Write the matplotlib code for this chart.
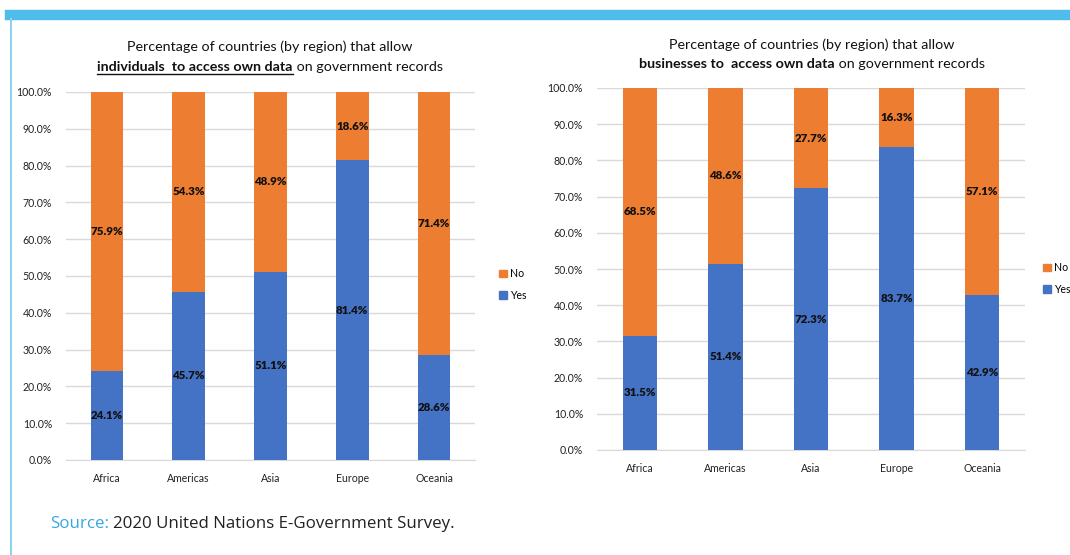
import numpy as np
import matplotlib.pyplot as plt
from matplotlib.patches import Patch
from matplotlib.lines import Line2D

plt.rcParams['font.family'] = ['Lato', 'DejaVu Sans']

regions = ['Africa', 'Americas', 'Asia', 'Europe', 'Oceania']
indiv_yes = [24.1, 45.7, 51.1, 81.4, 28.6]
indiv_no = [75.9, 54.3, 48.9, 18.6, 71.4]
biz_yes = [31.5, 51.4, 72.3, 83.7, 42.9]
biz_no = [68.5, 48.6, 27.7, 16.3, 57.1]

BLUE = '#4472C4'
ORANGE = '#ED7D31'
GRID = '#D9D9D9'
FRAME = '#4FBDEB'

fig = plt.figure(figsize=(10.7, 5.55), dpi=100)
W, H = 1070, 555

def px_axes(x0, y0, x1, y1):
    return fig.add_axes([x0 / W, 1 - y1 / H, (x1 - x0) / W, (y1 - y0) / H])

def draw_panel(ax, yes, no):
    x = np.arange(len(regions))
    ax.bar(x, yes, width=0.4, color=BLUE, zorder=3)
    ax.bar(x, no, width=0.4, bottom=yes, color=ORANGE, zorder=3)
    for xi, y, n in zip(x, yes, no):
        ax.text(xi, y / 2, f'{y:.1f}%', ha='center', va='center',
                fontsize=8.3, fontweight='heavy', color='#111111', zorder=4)
        ax.text(xi, y + n / 2, f'{n:.1f}%', ha='center', va='center',
                fontsize=8.3, fontweight='heavy', color='#111111', zorder=4)
    ax.set_xlim(-0.5, len(regions) - 0.5)
    ax.set_ylim(0, 100)
    ax.set_yticks(np.arange(0, 101, 10))
    ax.set_yticklabels([f'{v:.1f}%' for v in range(0, 101, 10)])
    ax.set_xticks(x)
    ax.set_xticklabels(regions)
    ax.tick_params(length=0, labelsize=7.6, colors='#222222')
    ax.tick_params(axis='y', pad=10)
    ax.tick_params(axis='x', pad=9)
    ax.grid(axis='y', color=GRID, linewidth=1, zorder=0)
    for s in ['top', 'right', 'left']:
        ax.spines[s].set_visible(False)
    ax.spines['bottom'].set_color(GRID)
    ax.set_facecolor('none')

ax1 = px_axes(66, 92, 475, 460)
draw_panel(ax1, indiv_yes, indiv_no)
ax2 = px_axes(597, 88, 1025, 450)
draw_panel(ax2, biz_yes, biz_no)

handles = [Patch(color=ORANGE, label='No'), Patch(color=BLUE, label='Yes')]
for xl, yl in [(494, 263), (1038, 257)]:
    fig.legend(handles=handles, loc='upper left', bbox_to_anchor=(xl / W, 1 - yl / H),
               frameon=False, fontsize=7.6, handlelength=0.7, handleheight=0.7,
               handletextpad=0.3, labelspacing=1.0, borderpad=0)

# titles
def title(cx, y1, y2, bold, rest, underline):
    fig.text(cx / W, 1 - y1 / H, 'Percentage of countries (by region) that allow',
             ha='center', va='center', fontsize=10.3, color='#111111')
    tb = fig.text(0, 1 - y2 / H, bold, ha='left', va='center', fontsize=10.3,
                  fontweight='bold', color='#111111')
    tr = fig.text(0, 1 - y2 / H, rest, ha='left', va='center', fontsize=10.3,
                  color='#111111')
    return tb, tr, cx, y2, underline

titles = [title(270, 47, 67, 'individuals  to access own data', ' on government records', True),
          title(812, 45, 64, 'businesses to  access own data', ' on government records', False)]

fig.canvas.draw()
r = fig.canvas.get_renderer()
for tb, tr, cx, y2, ul in titles:
    wb = tb.get_window_extent(r).width
    wr = tr.get_window_extent(r).width
    x0 = cx - (wb + wr) / 2
    tb.set_x(x0 / W)
    tr.set_x((x0 + wb) / W)
    if ul:
        fig.add_artist(Line2D([x0 / W, (x0 + wb) / W], [1 - (y2 + 7) / H] * 2,
                              color='#111111', linewidth=1.0))

# frame decorations
fig.add_artist(Line2D([10 / W, 1], [1 - 15 / H] * 2, color=FRAME, linewidth=7.5))
fig.add_artist(Line2D([10.5 / W] * 2, [1 - 19 / H, 0], color='#8FD2F0', linewidth=1.5))

fig.text(50 / W, 1 - 524 / H, 'Source:', ha='left', va='center', fontsize=12.2,
         color='#35A8E0', family=['Open Sans', 'DejaVu Sans'])
fig.text(113 / W, 1 - 524 / H, '2020 United Nations E-Government Survey.', ha='left',
         va='center', fontsize=12.2, color='#222222', family=['Open Sans', 'DejaVu Sans'])

fig.savefig('out.png', dpi=100)
